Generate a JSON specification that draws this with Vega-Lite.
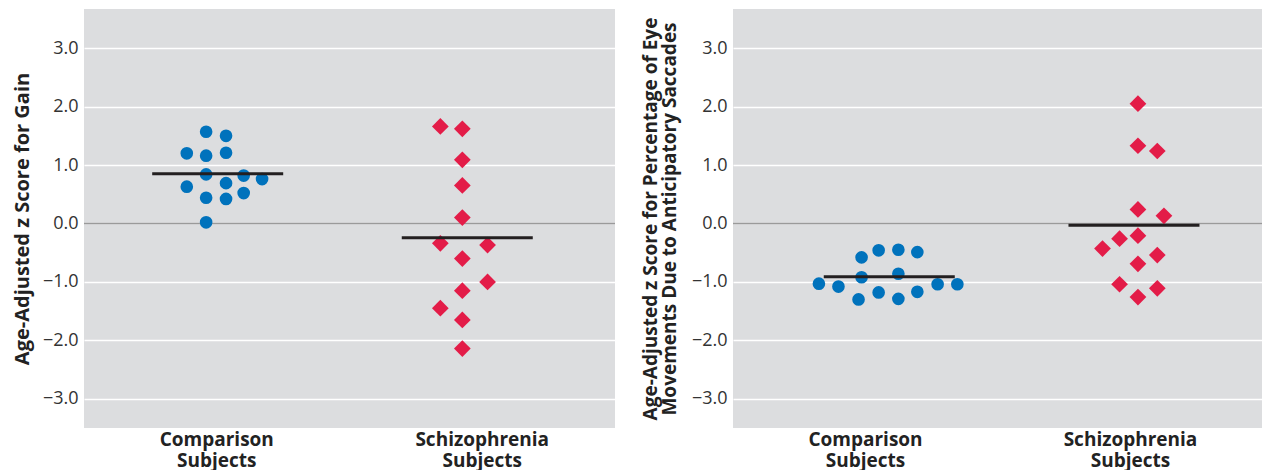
{
  "$schema": "https://vega.github.io/schema/vega-lite/v6.json",
  "padding": {"left": 12, "top": 9, "right": 0, "bottom": 0},
  "background": "white",
  "bounds": "flush",
  "spacing": 118,
  "config": {
    "view": {"fill": "#DCDDDF", "stroke": null},
    "font": "Open Sans",
    "axis": {
      "domain": false, "ticks": false,
      "labelFont": "Open Sans", "labelFontSize": 18, "labelColor": "#333333",
      "titleFont": "Open Sans", "titleFontSize": 20, "titleFontWeight": "bold", "titleColor": "#222222",
      "gridColor": "#FFFFFF", "gridWidth": 1.5, "gridOpacity": 1
    }
  },
  "datasets": {
    "gain": [
      {"group": "Comparison Subjects", "slot": -0.56, "z": 1.57},
      {"group": "Comparison Subjects", "slot": 0.49, "z": 1.50},
      {"group": "Comparison Subjects", "slot": -1.58, "z": 1.20},
      {"group": "Comparison Subjects", "slot": -0.56, "z": 1.16},
      {"group": "Comparison Subjects", "slot": 0.49, "z": 1.21},
      {"group": "Comparison Subjects", "slot": -0.56, "z": 0.84},
      {"group": "Comparison Subjects", "slot": 1.42, "z": 0.82},
      {"group": "Comparison Subjects", "slot": 2.39, "z": 0.76},
      {"group": "Comparison Subjects", "slot": -1.58, "z": 0.63},
      {"group": "Comparison Subjects", "slot": 0.49, "z": 0.69},
      {"group": "Comparison Subjects", "slot": -0.56, "z": 0.44},
      {"group": "Comparison Subjects", "slot": 0.49, "z": 0.42},
      {"group": "Comparison Subjects", "slot": 1.42, "z": 0.52},
      {"group": "Comparison Subjects", "slot": -0.56, "z": 0.02},
      {"group": "Schizophrenia Subjects", "slot": -2.21, "z": 1.66},
      {"group": "Schizophrenia Subjects", "slot": -1.05, "z": 1.62},
      {"group": "Schizophrenia Subjects", "slot": -1.05, "z": 1.09},
      {"group": "Schizophrenia Subjects", "slot": -1.05, "z": 0.65},
      {"group": "Schizophrenia Subjects", "slot": -1.05, "z": 0.10},
      {"group": "Schizophrenia Subjects", "slot": -2.21, "z": -0.34},
      {"group": "Schizophrenia Subjects", "slot": 0.28, "z": -0.37},
      {"group": "Schizophrenia Subjects", "slot": -1.05, "z": -0.60},
      {"group": "Schizophrenia Subjects", "slot": 0.28, "z": -1.00},
      {"group": "Schizophrenia Subjects", "slot": -1.05, "z": -1.15},
      {"group": "Schizophrenia Subjects", "slot": -2.21, "z": -1.45},
      {"group": "Schizophrenia Subjects", "slot": -1.05, "z": -1.65},
      {"group": "Schizophrenia Subjects", "slot": -1.05, "z": -2.14}
    ],
    "gainMean": [
      {"group": "Comparison Subjects", "slot": 0.05, "z": 0.85},
      {"group": "Schizophrenia Subjects", "slot": -0.79, "z": -0.245}
    ],
    "antic": [
      {"group": "Comparison Subjects", "slot": -2.47, "z": -1.03},
      {"group": "Comparison Subjects", "slot": -1.44, "z": -1.08},
      {"group": "Comparison Subjects", "slot": -0.22, "z": -0.58},
      {"group": "Comparison Subjects", "slot": -0.22, "z": -0.92},
      {"group": "Comparison Subjects", "slot": -0.38, "z": -1.30},
      {"group": "Comparison Subjects", "slot": 0.68, "z": -0.46},
      {"group": "Comparison Subjects", "slot": 0.68, "z": -1.18},
      {"group": "Comparison Subjects", "slot": 1.72, "z": -0.45},
      {"group": "Comparison Subjects", "slot": 1.72, "z": -0.86},
      {"group": "Comparison Subjects", "slot": 1.72, "z": -1.29},
      {"group": "Comparison Subjects", "slot": 2.72, "z": -0.49},
      {"group": "Comparison Subjects", "slot": 2.72, "z": -1.17},
      {"group": "Comparison Subjects", "slot": 3.79, "z": -1.04},
      {"group": "Comparison Subjects", "slot": 4.83, "z": -1.04},
      {"group": "Schizophrenia Subjects", "slot": 0.38, "z": 2.05},
      {"group": "Schizophrenia Subjects", "slot": 0.38, "z": 1.33},
      {"group": "Schizophrenia Subjects", "slot": 1.40, "z": 1.24},
      {"group": "Schizophrenia Subjects", "slot": 0.38, "z": 0.24},
      {"group": "Schizophrenia Subjects", "slot": 1.75, "z": 0.13},
      {"group": "Schizophrenia Subjects", "slot": -0.59, "z": -0.26},
      {"group": "Schizophrenia Subjects", "slot": 0.38, "z": -0.21},
      {"group": "Schizophrenia Subjects", "slot": -1.49, "z": -0.43},
      {"group": "Schizophrenia Subjects", "slot": 1.40, "z": -0.54},
      {"group": "Schizophrenia Subjects", "slot": 0.38, "z": -0.69},
      {"group": "Schizophrenia Subjects", "slot": -0.59, "z": -1.04},
      {"group": "Schizophrenia Subjects", "slot": 1.40, "z": -1.11},
      {"group": "Schizophrenia Subjects", "slot": 0.38, "z": -1.26}
    ],
    "anticMean": [
      {"group": "Comparison Subjects", "slot": 1.24, "z": -0.91},
      {"group": "Schizophrenia Subjects", "slot": 0.17, "z": -0.03}
    ],
    "zero": [{"z": 0}]
  },
  "hconcat": [
    {
      "width": 531, "height": 419,
      "encoding": {
        "x": {"field": "group", "type": "nominal", "sort": ["Comparison Subjects", "Schizophrenia Subjects"],
              "scale": {"paddingInner": 0, "paddingOuter": 0},
              "axis": {"title": null, "labelAngle": 0, "labelExpr": "split(datum.label, ' ')", "labelFontWeight": "bold", "labelFontSize": 19, "labelColor": "#222222", "labelLineHeight": 21, "labelPadding": 2, "labelDx": -5, "grid": false}},
        "y": {"field": "z", "type": "quantitative",
              "scale": {"domain": [-3.5, 3.67], "nice": false, "zero": false},
              "axis": {"title": "Age-Adjusted z Score for Gain", "values": [-3, -2, -1, 0, 1, 2, 3], "format": ".1f", "labelPadding": 6, "titlePadding": 10, "grid": true}}
      },
      "layer": [
        {"data": {"name": "zero"}, "mark": {"type": "rule", "color": "#9A9A9A", "strokeWidth": 1.5}, "encoding": {"x": null, "y": {"field": "z", "type": "quantitative"}}},
        {"data": {"name": "gain"}, "mark": {"type": "point", "filled": true, "opacity": 1, "strokeWidth": 0},
         "encoding": {
           "xOffset": {"field": "slot", "type": "quantitative", "scale": {"domain": [-7, 7]}},
           "shape": {"field": "group", "type": "nominal", "scale": {"domain": ["Comparison Subjects", "Schizophrenia Subjects"], "range": ["circle", "diamond"]}, "legend": null},
           "color": {"field": "group", "type": "nominal", "scale": {"domain": ["Comparison Subjects", "Schizophrenia Subjects"], "range": ["#0072BC", "#E31C48"]}, "legend": null},
           "size": {"field": "group", "type": "nominal", "scale": {"domain": ["Comparison Subjects", "Schizophrenia Subjects"], "range": [160, 280]}, "legend": null}
         }},
        {"data": {"name": "gainMean"}, "mark": {"type": "tick", "orient": "horizontal", "size": 131, "thickness": 3, "color": "#231F20", "opacity": 1},
         "encoding": {"xOffset": {"field": "slot", "type": "quantitative", "scale": {"domain": [-7, 7]}}}}
      ]
    },
    {
      "width": 530, "height": 419,
      "encoding": {
        "x": {"field": "group", "type": "nominal", "sort": ["Comparison Subjects", "Schizophrenia Subjects"],
              "scale": {"paddingInner": 0, "paddingOuter": 0},
              "axis": {"title": null, "labelAngle": 0, "labelExpr": "split(datum.label, ' ')", "labelFontWeight": "bold", "labelFontSize": 19, "labelColor": "#222222", "labelLineHeight": 21, "labelPadding": 2, "labelDx": 11, "grid": false}},
        "y": {"field": "z", "type": "quantitative",
              "scale": {"domain": [-3.5, 3.67], "nice": false, "zero": false},
              "axis": {"title": ["Age-Adjusted z Score for Percentage of Eye", "Movements Due to Anticipatory Saccades"], "titleFontSize": 19, "titleLineHeight": 19, "values": [-3, -2, -1, 0, 1, 2, 3], "format": ".1f", "labelPadding": 6, "titlePadding": 12, "grid": true}}
      },
      "layer": [
        {"data": {"name": "zero"}, "mark": {"type": "rule", "color": "#9A9A9A", "strokeWidth": 1.5}, "encoding": {"x": null, "y": {"field": "z", "type": "quantitative"}}},
        {"data": {"name": "antic"}, "mark": {"type": "point", "filled": true, "opacity": 1, "strokeWidth": 0},
         "encoding": {
           "xOffset": {"field": "slot", "type": "quantitative", "scale": {"domain": [-7, 7]}},
           "shape": {"field": "group", "type": "nominal", "scale": {"domain": ["Comparison Subjects", "Schizophrenia Subjects"], "range": ["circle", "diamond"]}, "legend": null},
           "color": {"field": "group", "type": "nominal", "scale": {"domain": ["Comparison Subjects", "Schizophrenia Subjects"], "range": ["#0072BC", "#E31C48"]}, "legend": null},
           "size": {"field": "group", "type": "nominal", "scale": {"domain": ["Comparison Subjects", "Schizophrenia Subjects"], "range": [160, 280]}, "legend": null}
         }},
        {"data": {"name": "anticMean"}, "mark": {"type": "tick", "orient": "horizontal", "size": 131, "thickness": 3, "color": "#231F20", "opacity": 1},
         "encoding": {"xOffset": {"field": "slot", "type": "quantitative", "scale": {"domain": [-7, 7]}}}}
      ]
    }
  ]
}
